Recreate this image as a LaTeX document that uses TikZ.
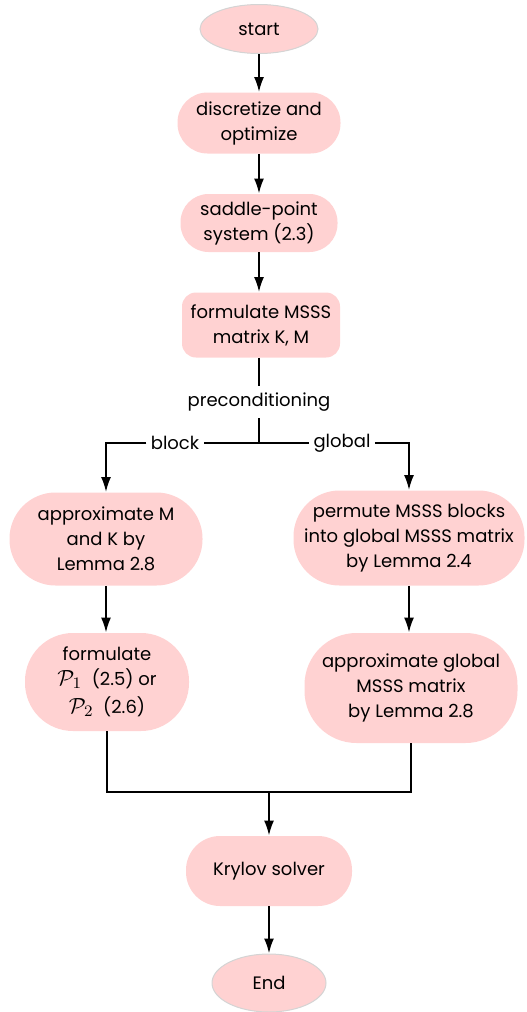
\documentclass[tikz,border=0pt]{standalone}
\usepackage{fontspec}
\setmainfont{Poppins}
\usepackage{xcolor}
\usetikzlibrary{shapes.geometric,arrows.meta}

\definecolor{boxpink}{HTML}{FFD2D2}
\definecolor{rimgray}{HTML}{D4D4D4}

\newcommand{\bigP}[1]{{\fontsize{11}{12.5}\selectfont$\mathcal{P}_{#1}$}}

\tikzset{
  stepbox/.style={fill=boxpink, draw=none, align=center, inner sep=2pt},
  termbox/.style={ellipse, fill=boxpink, draw=rimgray, line width=0.5pt, inner sep=0pt},
  flow/.style={line width=1pt, -{Latex[length=7.5pt,width=5pt]}},
  link/.style={line width=1pt},
}

\begin{document}
\begin{tikzpicture}[x=0.5pt, y=-0.5pt, font=\fontsize{9}{12.5}\selectfont]
  \useasboundingbox (0,0) rectangle (526,1012);

  % main column
  \node[termbox, minimum width=59pt, minimum height=24.5pt] (start) at (259,29) {start};
  \node[stepbox, minimum width=81.5pt, minimum height=30.5pt, rounded corners=15pt] (disc) at (259,123) {discretize and\\optimize};
  \node[stepbox, minimum width=78.5pt, minimum height=29pt, rounded corners=14pt] (saddle) at (259,223) {saddle-point\\system (2.3)};
  \node[stepbox, minimum width=79pt, minimum height=32.5pt, rounded corners=7pt] (fmsss) at (261,325) {formulate MSSS\\matrix K, M};
  \node (precond) at (259,402) {preconditioning};
  \coordinate (split) at (259,443);
  \node[fill=white, inner sep=2pt] (blk) at (175,443) {block};
  \node[fill=white, inner sep=2pt] (glb) at (342,443) {global};

  % block branch
  \node[stepbox, minimum width=96.5pt, minimum height=46.5pt, rounded corners=23pt] (apM) at (106,539) {approximate M\\and K by\\Lemma 2.8};
  \node[stepbox, minimum width=82pt, minimum height=49pt, rounded corners=24pt] (fP) at (107,682) {formulate\\\bigP{1}~ (2.5) or\\[1.5pt]\bigP{2}~ (2.6)};

  % global branch
  \node[stepbox, minimum width=115.5pt, minimum height=47.5pt, rounded corners=23pt] (perm) at (409,538) {permute MSSS blocks\\into global MSSS matrix\\by Lemma 2.4};
  \node[stepbox, minimum width=106.5pt, minimum height=55pt, rounded corners=26pt] (apG) at (411,688) {approximate global\\MSSS matrix\\by Lemma 2.8};

  % end
  \coordinate (merge) at (269,792);
  \node[stepbox, minimum width=83pt, minimum height=35pt, rounded corners=17pt] (kry) at (269,871) {Krylov solver};
  \node[termbox, minimum width=57pt, minimum height=29pt] (fin) at (269,983) {End};

  \draw[flow] (start) -- (disc);
  \draw[flow] (disc) -- (saddle);
  \draw[flow] (saddle) -- (fmsss.north -| saddle);
  \draw[link] (fmsss.south -| precond) -- (precond);
  \draw[link] (precond) -- (split);
  \draw[link] (split) -- (blk);
  \draw[link] (split) -- (glb);
  \draw[flow] (blk) -| (apM);
  \draw[flow] (glb) -| (perm);
  \draw[flow] (apM) -- (fP.north -| apM);
  \draw[flow] (perm) -- (apG.north -| perm);
  \draw[link] (fP) |- (merge);
  \draw[link] (apG) |- (merge);
  \draw[flow] (merge) -- (kry);
  \draw[flow] (kry) -- (fin);
\end{tikzpicture}
\end{document}
